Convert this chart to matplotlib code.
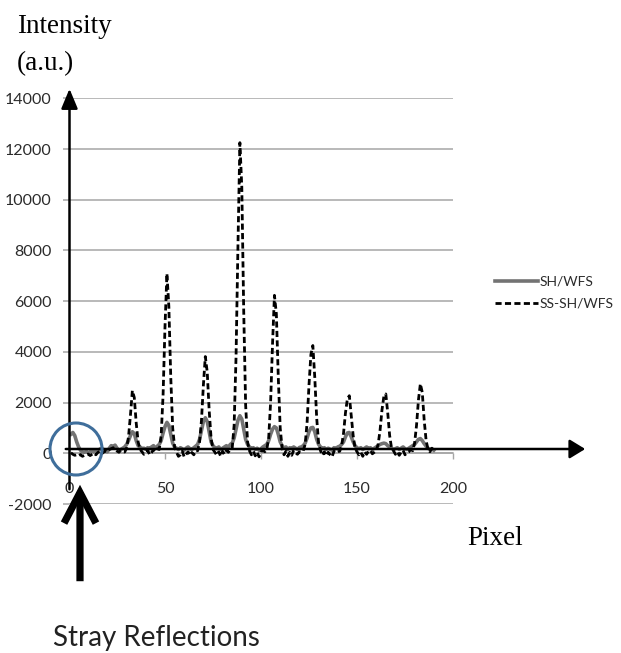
import numpy as np
import matplotlib
matplotlib.use("Agg")
import matplotlib.pyplot as plt
from matplotlib.patches import Circle, FancyArrowPatch
from matplotlib.transforms import IdentityTransform

plt.rcParams['font.family'] = ['Lato', 'DejaVu Sans']

# ---------------- data ----------------
pixel = np.arange(1, 191)

ss_sh_wfs = [
    20, -40, -80, -60, -100, -50, -120, -80, -60, -30,
    -90, -40, 10, -60, 30, 80, -20, 40, 100, 60,
    150, 180, 220, 160, 90, 40, 120, 60, 50, 200,
    650, 1500, 2470, 2200, 1200, 450, 150, 60, -40, 40,
    120, -60, 30, 150, 80, 180, 150, 700, 2300, 5000,
    7090, 5800, 3000, 1000, 250, 40, -120, -60, 80, -140,
    -40, 60, -80, 30, -60, 100, 100, 450, 1300, 2700,
    3815, 3200, 1700, 600, 150, 40, -80, 60, -120, 80,
    -40, 120, 40, 150, 200, 1100, 3800, 8200, 12250, 10500,
    5600, 1900, 450, 100, -60, 80, -100, 40, -140, 60,
    120, 60, 150, 600, 2000, 4300, 6230, 5500, 3000, 1000,
    200, -60, 80, -120, 40, -80, 120, 20, -40, 60,
    40, 100, 350, 1200, 2700, 3900, 4250, 3000, 1400, 400,
    100, -80, 60, -100, 40, -60, -140, 80, 20, 60,
    80, 300, 800, 1600, 2150, 2270, 1500, 700, 200, 60,
    -60, 40, -120, 60, -40, 80, 120, -20, 40, 100,
    350, 900, 1700, 2250, 2340, 1600, 700, 200, 100, -40,
    60, -80, 40, 120, -60, 20, 60, 150, 100, 400,
    1100, 2100, 2740, 2400, 1300, 500, 150, 60, 200, 80,
]

sh_wfs = [
    750, 820, 700, 450, 250, 120, 60, 40, 80, 30,
    60, 100, 50, 120, 90, 160, 200, 150, 80, 60,
    200, 300, 280, 320, 200, 120, 150, 200, 250, 350,
    500, 700, 850, 780, 500, 300, 250, 180, 200, 160,
    220, 180, 250, 300, 200, 280, 350, 500, 800, 1050,
    1220, 1100, 750, 400, 250, 200, 150, 220, 180, 120,
    200, 250, 180, 150, 220, 280, 350, 550, 900, 1250,
    1400, 1250, 850, 450, 300, 220, 180, 250, 150, 200,
    250, 300, 220, 350, 400, 600, 950, 1300, 1480, 1350,
    950, 550, 350, 250, 180, 220, 150, 200, 120, 180,
    250, 300, 350, 500, 750, 950, 1050, 1000, 750, 450,
    300, 200, 250, 150, 220, 180, 250, 200, 150, 230,
    250, 300, 400, 600, 850, 1000, 1020, 850, 550, 350,
    250, 180, 220, 150, 200, 160, 120, 220, 180, 250,
    280, 350, 450, 650, 800, 820, 650, 450, 300, 220,
    180, 220, 150, 200, 250, 180, 220, 150, 200, 250,
    300, 350, 380, 400, 380, 300, 250, 200, 150, 180,
    220, 150, 200, 250, 180, 150, 200, 250, 300, 350,
    450, 550, 580, 500, 380, 280, 200, 150, 180, 120,
]

series_labels = ['SH/WFS', 'SS-SH/WFS']
x_ticks = [0, 50, 100, 150, 200]
y_ticks = [-2000, 0, 2000, 4000, 6000, 8000, 10000, 12000, 14000]

# ---------------- figure ----------------
W, H = 621, 653
fig = plt.figure(figsize=(W / 100, H / 100), dpi=100)
ax = fig.add_axes([69 / W, 1 - 504 / H, 384 / W, (504 - 98.3) / H])
ax.set_xlim(0, 200)
ax.set_ylim(-2000, 14000)

grid_col = '#a6a6a6'
ax.plot(pixel, sh_wfs, color='#737373', lw=2.6, label=series_labels[0], zorder=3)
ax.plot(pixel, ss_sh_wfs, color='black', lw=2.0, dashes=(2.2, 1.2),
        label=series_labels[1], zorder=4)

for s in ['top', 'right', 'left']:
    ax.spines[s].set_visible(False)
ax.spines['bottom'].set_position(('data', 0))
ax.spines['bottom'].set_color(grid_col)
ax.spines['bottom'].set_linewidth(1.1)

ax.set_xticks(x_ticks)
ax.set_yticks(y_ticks)
ax.set_yticklabels([str(v) for v in y_ticks])
ax.tick_params(axis='x', direction='out', length=4.3, width=1, color=grid_col,
               labelsize=11.5, pad=16.5, labelcolor='#2b2b2b')
ax.tick_params(axis='y', direction='out', length=4.3, width=1.1, color=grid_col,
               labelsize=11.5, pad=8, labelcolor='#2b2b2b')
ax.grid(axis='y', color=grid_col, lw=1.1, zorder=0)
ax.set_axisbelow(True)

leg = ax.legend(loc='upper left', bbox_to_anchor=(495 / W, 1 - 276 / H),
                bbox_transform=fig.transFigure, frameon=False, fontsize=10,
                handlelength=3.1, handletextpad=0.1, labelspacing=0.72,
                borderpad=0, borderaxespad=0)
for t in leg.get_texts():
    t.set_color('#2b2b2b')

# ---------------- annotations (figure pixels, top-left origin) ----------------
def P(x, y):
    return (x, H - y)

idt = IdentityTransform()

# y axis arrow
fig.add_artist(FancyArrowPatch(P(69.5, 492), P(69.5, 86), transform=idt,
                               arrowstyle='-|>,head_length=12,head_width=5',
                               mutation_scale=1, lw=1.8, color='black',
                               zorder=10))
# x axis arrow
fig.add_artist(FancyArrowPatch(P(63, 449), P(588, 449), transform=idt,
                               arrowstyle='-|>,head_length=9.5,head_width=5.8',
                               mutation_scale=1, lw=1.8, color='black',
                               zorder=10))
# circle
fig.add_artist(Circle(P(76, 449), 26, transform=idt, fill=False,
                      edgecolor='#3f6e9b', lw=2.2, zorder=11))
# big arrow
fig.add_artist(FancyArrowPatch(P(80, 584), P(80, 482), transform=idt,
                               arrowstyle='->,head_length=22,head_width=11.5',
                               mutation_scale=1, lw=5.2, color='black',
                               joinstyle='miter', capstyle='butt', zorder=10))

serif = ['Liberation Serif', 'DejaVu Serif']
fig.text(17 / W, 1 - 33 / H, 'Intensity', family=serif, fontsize=19.5,
         va='baseline', ha='left')
fig.text(17 / W, 1 - 70 / H, '(a.u.)', family=serif, fontsize=19.5,
         va='baseline', ha='left')
fig.text(467 / W, 1 - 545 / H, 'Pixel', family=serif, fontsize=19.5,
         va='baseline', ha='left')
fig.text(53 / W, 1 - 646 / H, 'Stray Reflections', fontsize=20,
         va='baseline', ha='left', color='#222222')

fig.savefig('out.png', dpi=100)
